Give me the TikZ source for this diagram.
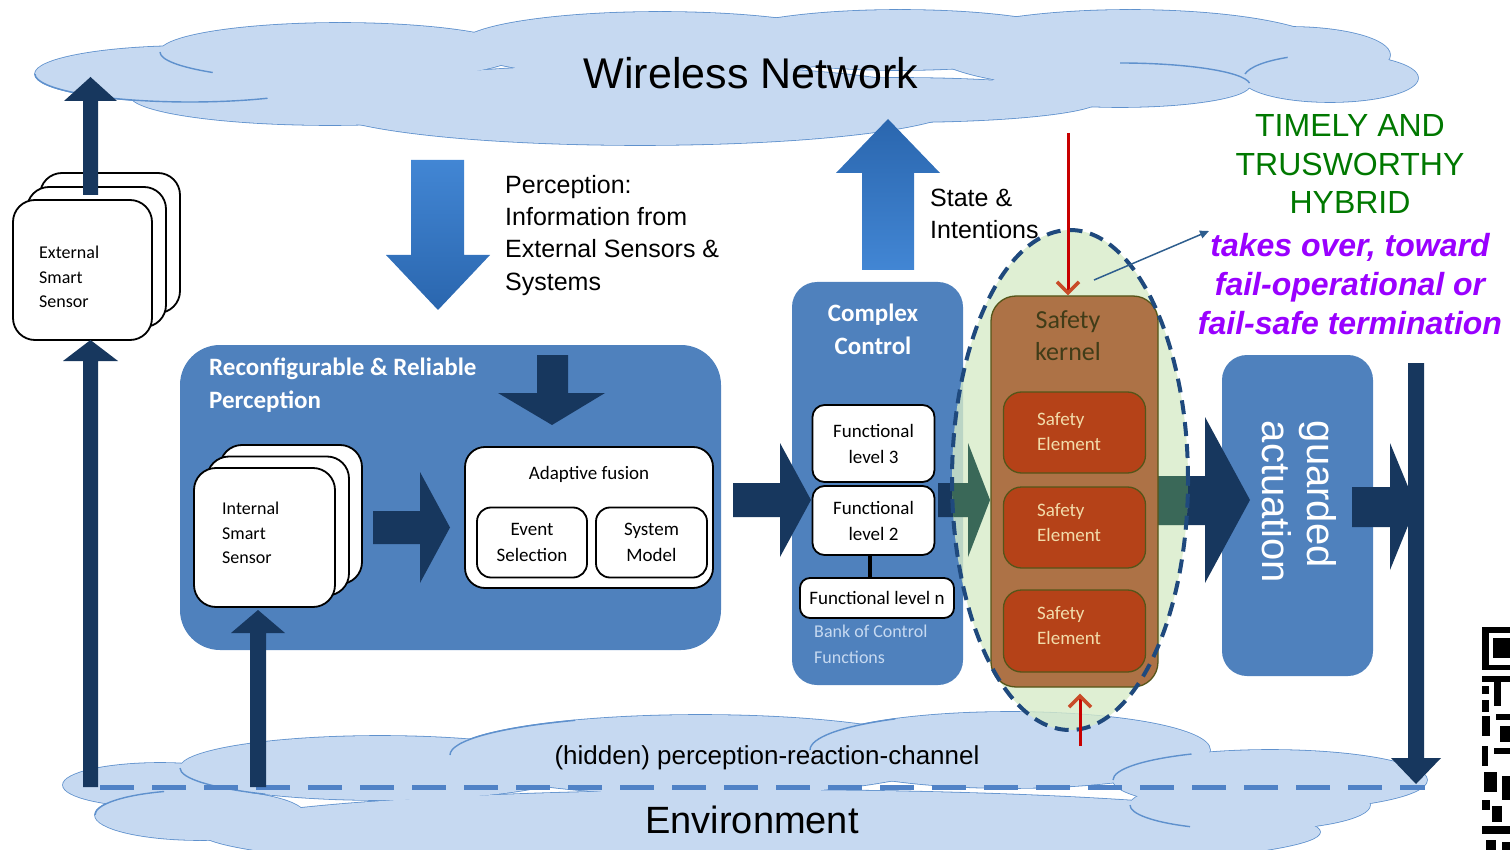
\documentclass[tikz,border=0pt]{standalone}
\usepackage{fontspec}
\setmainfont{Liberation Sans}
\newfontfamily\carl{Carlito}
\usetikzlibrary{arrows.meta}
\definecolor{cloudfill}{RGB}{198,217,241}
\definecolor{cloudline}{RGB}{95,145,205}
\definecolor{navy}{RGB}{23,55,94}
\definecolor{boxblue}{RGB}{79,129,189}
\definecolor{ellfill}{RGB}{215,235,200}
\definecolor{elldash}{RGB}{31,73,125}
\definecolor{kernelbrown}{RGB}{173,114,70}
\definecolor{serust}{RGB}{181,66,24}
\definecolor{setext}{RGB}{242,220,170}
\definecolor{seline}{RGB}{85,85,25}
\definecolor{kerneltext}{RGB}{64,60,24}
\definecolor{arrgreen}{RGB}{58,104,88}
\definecolor{redline}{RGB}{200,0,0}
\definecolor{redhead}{RGB}{200,75,40}
\definecolor{txtgreen}{RGB}{0,120,0}
\definecolor{txtpurple}{RGB}{153,0,255}
\definecolor{banktext}{RGB}{198,217,241}
\definecolor{pointer}{RGB}{46,94,142}
\definecolor{gradlight}{RGB}{66,134,212}
\definecolor{graddark}{RGB}{42,102,174}
\definecolor{dashblue}{RGB}{80,130,198}
\begin{document}
\begin{tikzpicture}[x=1pt,y=-1pt,
  wbox/.style={draw=black, line width=1.8pt, fill=white, inner sep=0pt},
  bluebox/.style={fill=boxblue, inner sep=0pt},
  navyarrow/.style={fill=navy},
  cloudedge/.style={draw=cloudline, line width=1.6pt},
  cloudarc/.style={draw=cloudline, line width=1.4pt},
  boxtext/.style={font=\carl\fontsize{19}{26}\selectfont, inner sep=0pt, align=center},
  sensortext/.style={font=\carl\fontsize{18}{24.5}\selectfont, inner sep=0pt, align=left, anchor=north west},
  setxt/.style={font=\carl\fontsize{19}{25.5}\selectfont, text=setext, inner sep=0pt, align=left, anchor=north west},
  titletext/.style={font=\carl\bfseries\fontsize{25}{33}\selectfont, text=white, inner sep=0pt},
  sebox/.style={fill=serust, draw=seline, line width=1.3pt, rounded corners=18pt, inner sep=0pt, minimum width=142pt}
]
\useasboundingbox (0,0) rectangle (1510,850);

% ---------------- top cloud ----------------
\def\topcloud{190/74/155/28, 340/52/180/29, 660/45/200/33, 900/40/180/30, 1130/50/200/40,
  1290/55/100/28, 1330/78/88/24, 1120/85/130/22, 640/105/320/40, 330/95/200/30, 900/100/200/22}
\foreach \cx/\cy/\rx/\ry in \topcloud {\draw[cloudedge] (\cx,\cy) ellipse [x radius=\rx pt, y radius=\ry pt];}
\foreach \cx/\cy/\rx/\ry in \topcloud {\fill[cloudfill] (\cx,\cy) ellipse [x radius=\rx pt, y radius=\ry pt];}
\draw[cloudarc] (35,74) arc [start angle=180, end angle=300, x radius=155pt, y radius=28pt];
\draw[cloudarc] (1120,63) arc [start angle=90, end angle=5, x radius=130pt, y radius=22pt];
\draw[cloudarc] (1245,74) arc [start angle=170, end angle=120, x radius=88pt, y radius=24pt];
\draw[cloudarc] (160,52) arc [start angle=180, end angle=225, x radius=180pt, y radius=29pt];
\node (wn) at (751,73) {\fontsize{43}{50}\selectfont Wireless Network};

% ---------------- bottom cloud ----------------
\def\botcloud{160/785/97/22, 200/815/105/25, 380/768/200/32, 700/755/250/40, 1010/750/200/38,
  1270/780/157/30, 760/832/560/42, 1250/805/120/25}
\foreach \cx/\cy/\rx/\ry in \botcloud {\draw[cloudedge] (\cx,\cy) ellipse [x radius=\rx pt, y radius=\ry pt];}
\foreach \cx/\cy/\rx/\ry in \botcloud {\fill[cloudfill] (\cx,\cy) ellipse [x radius=\rx pt, y radius=\ry pt];}
\draw[cloudarc] (95,815) arc [start angle=180, end angle=110, x radius=105pt, y radius=25pt];
\draw[cloudarc] (180,768) arc [start angle=180, end angle=235, x radius=200pt, y radius=32pt];
\draw[cloudarc] (450,755) arc [start angle=180, end angle=120, x radius=250pt, y radius=40pt];
\draw[cloudarc] (810,750) arc [start angle=180, end angle=125, x radius=200pt, y radius=38pt];
\draw[cloudarc] (1113,780) arc [start angle=180, end angle=120, x radius=157pt, y radius=30pt];
\draw[cloudarc] (1130,805) arc [start angle=180, end angle=240, x radius=120pt, y radius=25pt];
\draw[dashblue, line width=5pt, dash pattern=on 34pt off 18pt] (100,787) -- (1425,787);
\node (hid) at (767,758) {\fontsize{26}{30}\selectfont (hidden) perception-reaction-channel};
\node (env) at (752,820) {\fontsize{38}{44}\selectfont Environment};

% ---------------- external smart sensor ----------------
\node[wbox, rounded corners=22pt, minimum width=140pt, minimum height=140pt] (ext3) at (110,243) {};
\node[wbox, rounded corners=22pt, minimum width=139pt, minimum height=140pt] (ext2) at (96.5,257) {};
\fill[navyarrow] (83,195) -- (83,101) -- (64,101) -- (90.5,77) -- (117,101) -- (98,101) -- (98,195) -- cycle;
\node[wbox, rounded corners=22pt, minimum width=139pt, minimum height=140pt] (ext1) at (82.5,270) {};
\node[sensortext] (extt) at (39,246) {External\\Smart\\Sensor};
\fill[navyarrow] (83,787) -- (83,361) -- (63,361) -- (90.5,340) -- (118,361) -- (98,361) -- (98,787) -- cycle;

% ---------------- perception ----------------
\shade[top color=gradlight, bottom color=graddark] (411,160) -- (464,160) -- (464,255) -- (490,255) -- (438,310) -- (386,255) -- (411,255) -- cycle;
\node[anchor=north west, align=left, inner sep=0pt, font=\fontsize{25}{32.3}\selectfont] (perct) at (505,175) {Perception:\\Information from\\External Sensors \&\\Systems};

\node[bluebox, rounded corners=40pt, minimum width=541pt, minimum height=305pt] (perc) at (450.5,497.5) {};
\node[titletext, anchor=north west, align=left] (perctitle) at (209,358) {Reconfigurable \& Reliable\\Perception};
\fill[navyarrow] (537,355) -- (568,355) -- (568,393) -- (605,393) -- (552,425) -- (498,393) -- (537,393) -- cycle;

\node[wbox, rounded corners=22pt, minimum width=142pt, minimum height=139pt] (int3) at (291,514.5) {};
\node[wbox, rounded corners=22pt, minimum width=142pt, minimum height=139pt] (int2) at (278,526) {};
\node[wbox, rounded corners=22pt, minimum width=141pt, minimum height=139pt] (int1) at (264.5,537.5) {};
\node[sensortext] (intt) at (222,502) {Internal\\Smart\\Sensor};
\fill[navyarrow] (250,787) -- (250,633) -- (231,633) -- (258,610) -- (285,633) -- (266,633) -- (266,787) -- cycle;

\fill[navyarrow] (373,511) -- (420,511) -- (420,472) -- (450,527.5) -- (420,583) -- (420,544) -- (373,544) -- cycle;

\node[wbox, rounded corners=20pt, minimum width=248pt, minimum height=141pt] (fus) at (589,517.5) {};
\node[boxtext] (fust) at (589,474) {Adaptive fusion};
\node[wbox, rounded corners=14pt, minimum width=110pt, minimum height=70pt, boxtext] (ev) at (532,542.5) {Event\\Selection};
\node[wbox, rounded corners=14pt, minimum width=111pt, minimum height=70pt, boxtext] (sm) at (651.5,542.5) {System\\Model};

% ---------------- complex control ----------------
\shade[top color=graddark, bottom color=gradlight] (862,270) -- (862,173) -- (836,173) -- (888,119) -- (940,173) -- (914,173) -- (914,270) -- cycle;
\node[anchor=north west, align=left, inner sep=0pt, font=\fontsize{25}{32}\selectfont] (sit) at (930,189) {State \&\\Intentions};

\node[bluebox, rounded corners=25pt, minimum width=171pt, minimum height=403pt] (cc) at (877.5,483.5) {};
\fill[navyarrow] (733,483) -- (780,483) -- (780,443) -- (811,500) -- (780,557) -- (780,517) -- (733,517) -- cycle;
\node[titletext, align=center, anchor=north] (cct) at (873,304) {Complex\\Control};
\node[wbox, rounded corners=12pt, minimum width=122pt, minimum height=77pt, boxtext] (fl3) at (873.5,443.5) {Functional\\level 3};
\node[wbox, rounded corners=12pt, minimum width=122pt, minimum height=69pt, boxtext] (fl2) at (873.5,520.5) {Functional\\level 2};
\node[wbox, rounded corners=10pt, minimum width=154pt, minimum height=40pt, boxtext] (fln) at (877,598) {Functional level n};
\draw[line width=4pt] (fl2.south) ++(-4,0) coordinate (flc) -- (flc |- fln.north);
\node[anchor=north west, align=left, inner sep=0pt, text=banktext, font=\carl\fontsize{18}{26}\selectfont] (bank) at (814,625) {Bank of Control\\Functions};

% ---------------- guarded actuation box ----------------
\node[bluebox, rounded corners=25pt, minimum width=151pt, minimum height=321pt] (act) at (1297.5,515.5) {};

% ---------------- safety kernel ----------------
\fill[navyarrow] (938,483) -- (968,483) -- (968,443) -- (990,500) -- (968,557) -- (968,517) -- (938,517) -- cycle;
\fill[navyarrow] (1140,476) -- (1205,476) -- (1205,417) -- (1250,500) -- (1205,583) -- (1205,525) -- (1140,525) -- cycle;
\coordinate (ellc) at (1070,480);
\fill[ellfill, fill opacity=0.8] (ellc) ellipse [x radius=118pt, y radius=250pt];
\begin{scope}
  \clip (ellc) ellipse [x radius=118pt, y radius=250pt];
  \fill[arrgreen] (938,483) -- (968,483) -- (968,443) -- (990,500) -- (968,557) -- (968,517) -- (938,517) -- cycle;
  \fill[arrgreen] (1140,476) -- (1205,476) -- (1205,417) -- (1250,500) -- (1205,583) -- (1205,525) -- (1140,525) -- cycle;
\end{scope}
\node[fill=kernelbrown, draw=seline, line width=1.3pt, rounded corners=25pt, minimum width=167pt, minimum height=391pt, inner sep=0pt] (kernel) at (1074.5,491.5) {};
\node[anchor=north, align=center, inner sep=0pt, text=kerneltext, font=\carl\fontsize{26}{32}\selectfont] (kt) at (1068,310) {Safety\\kernel};
\node[sebox, minimum height=81pt] (se1) at (1074.5,432.5) {};
\node[sebox, minimum height=81pt] (se2) at (1074.5,527.5) {};
\node[sebox, minimum height=82pt] (se3) at (1074.5,631) {};
\node[setxt] (se1t) at (1037,412) {Safety\\Element};
\node[setxt] (se2t) at (1037,503) {Safety\\Element};
\node[setxt] (se3t) at (1037,606) {Safety\\Element};
\draw[elldash, line width=4pt, dash pattern=on 14pt off 8pt] (ellc) ellipse [x radius=118pt, y radius=250pt];

\coordinate (rtop) at (1068,133);
\draw[redline, line width=3pt, -{Straight Barb[length=11pt, width=22pt, line width=3.5pt, color=redhead]}] (rtop) -- (rtop |- kernel.north);
\coordinate (rbot) at (1080,746);
\draw[redline, line width=3pt, -{Straight Barb[length=11pt, width=22pt, line width=3.5pt, color=redhead]}] (rbot) -- ([yshift=-6pt]rbot |- kernel.south);

% ---------------- guarded actuation ----------------
\node[rotate=-90, align=left, text=white, inner sep=0pt, font=\fontsize{40}{45}\selectfont] (actt) at (1299,502) {guarded\\actuation};
\fill[navyarrow] (1408,363) -- (1424,363) -- (1424,758) -- (1441,758) -- (1416,784) -- (1391,758) -- (1408,758) -- cycle;
\fill[navyarrow] (1352,487) -- (1390,487) -- (1390,443) -- (1416,506) -- (1390,570) -- (1390,527) -- (1352,527) -- cycle;

% ---------------- hybrid labels ----------------
\node[align=center, inner sep=0pt, text=txtgreen, font=\fontsize{32}{38.5}\selectfont] (hyb) at (1350,164) {TIMELY AND\\TRUSWORTHY\\HYBRID};
\node[align=center, inner sep=0pt, text=txtpurple, font=\bfseries\itshape\fontsize{32}{39}\selectfont] (takes) at (1350,284) {takes over, toward\\fail-operational or\\fail-safe termination};
\coordinate (pstart) at (1094,280);
\coordinate (pend) at (1209,231);
\draw[pointer, line width=1.5pt, -{Triangle[length=9pt, width=8pt]}] (pstart) -- (pend);

% ---------------- QR fragment ----------------
\begin{scope}
\fill[black] (1482,627) rectangle (1510,670);
\fill[white] (1489,633) rectangle (1510,665);
\fill[black] (1493,638) rectangle (1510,658);
\fill[black] (1482,676) rectangle (1510,682);
\fill[black] (1482,686) rectangle (1489,694);
\fill[black] (1494,682) rectangle (1501,706);
\fill[black] (1482,700) rectangle (1489,712);
\fill[black] (1482,716) rectangle (1490,736);
\fill[black] (1496,714) rectangle (1510,720);
\fill[black] (1500,726) rectangle (1510,742);
\fill[black] (1482,746) rectangle (1488,766);
\fill[black] (1494,748) rectangle (1510,754);
\fill[black] (1484,772) rectangle (1497,792);
\fill[black] (1502,776) rectangle (1510,800);
\fill[black] (1482,800) rectangle (1490,810);
\fill[black] (1492,806) rectangle (1502,822);
\fill[black] (1482,826) rectangle (1510,834);
\fill[black] (1486,840) rectangle (1496,850);
\fill[black] (1502,842) rectangle (1510,850);
\end{scope}
\end{tikzpicture}
\end{document}
